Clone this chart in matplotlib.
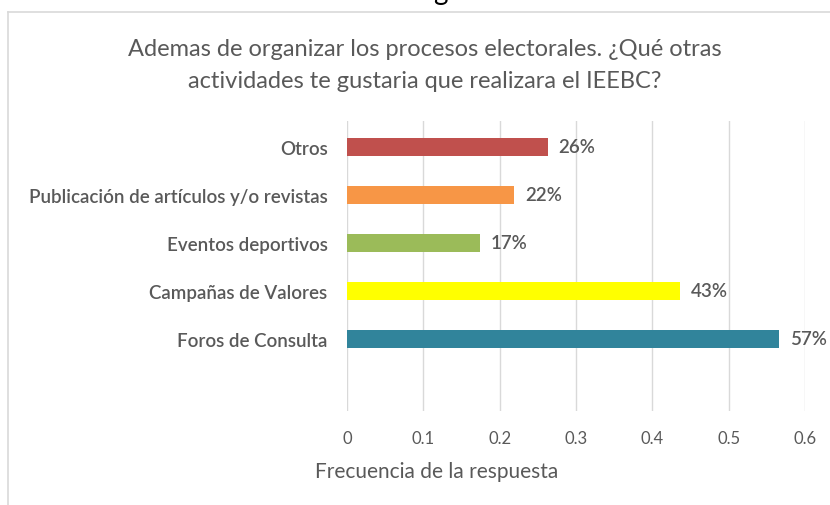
import matplotlib
matplotlib.use("Agg")
import matplotlib.pyplot as plt
from matplotlib.lines import Line2D

categories = ["Otros", "Publicación de artículos y/o revistas", "Eventos deportivos",
              "Campañas de Valores", "Foros de Consulta"]
values = [0.263, 0.219, 0.174, 0.436, 0.566]
labels = ["26%", "22%", "17%", "43%", "57%"]
colors = ["#C0504D", "#F79646", "#9BBB59", "#FFFF00", "#31849B"]
xticks = [0, 0.1, 0.2, 0.3, 0.4, 0.5, 0.6]
xtick_labels = ["0", "0.1", "0.2", "0.3", "0.4", "0.5", "0.6"]

plt.rcParams['font.family'] = ['Lato', 'DejaVu Sans']
gray = "#595959"

fig = plt.figure(figsize=(8.3, 5.06), dpi=100)
W, H = 830, 506
ax = fig.add_axes([347 / W, 1 - 412 / H, (805 - 347) / W, (412 - 122) / H])

ypos = list(range(len(categories)))
ax.barh(ypos, values, height=0.375, color=colors, zorder=3)
ax.set_ylim(5.5, -0.5 - 0.04)
ax.set_xlim(0, 0.6)
ax.set_yticks(ypos)
ax.set_yticklabels(categories, fontsize=13.5, color=gray, fontweight='semibold')
ax.set_xticks(xticks)
ax.set_xticklabels(xtick_labels, fontsize=12, color=gray)
ax.tick_params(axis='both', length=0)
ax.tick_params(axis='y', pad=14)
ax.tick_params(axis='x', pad=14)
ax.grid(axis='x', color="#D9D9D9", linewidth=1, zorder=0)
for s in ax.spines.values():
    s.set_visible(False)

for y, v, lab in zip(ypos, values, labels):
    ax.text(v + 0.014, y, lab, va='center', ha='left', fontsize=13.5,
            color=gray, fontweight='semibold')

fig.text(437 / W, 1 - 472 / H, "Frecuencia de la respuesta", ha='center', va='center',
         fontsize=15, color=gray)

fig.text(425 / W, 1 - 49 / H, "Ademas de organizar los procesos electorales. ¿Qué otras",
         ha='center', va='center', fontsize=17, color=gray)
fig.text(425 / W, 1 - 81 / H, "actividades te gustaria que realizara el IEEBC?",
         ha='center', va='center', fontsize=17, color=gray)

# outer frame lines
fig.add_artist(Line2D([8 / W, 1], [1 - 13 / H, 1 - 13 / H], color="#D9D9D9", lw=1.2,
                      transform=fig.transFigure))
fig.add_artist(Line2D([8 / W, 8 / W], [0, 1 - 13 / H], color="#D9D9D9", lw=1.2,
                      transform=fig.transFigure))
fig.text(440 / W, 1 + 8 / H, "g", ha='center', va='center', fontsize=20, color="black")

fig.savefig("out.png", dpi=100)
